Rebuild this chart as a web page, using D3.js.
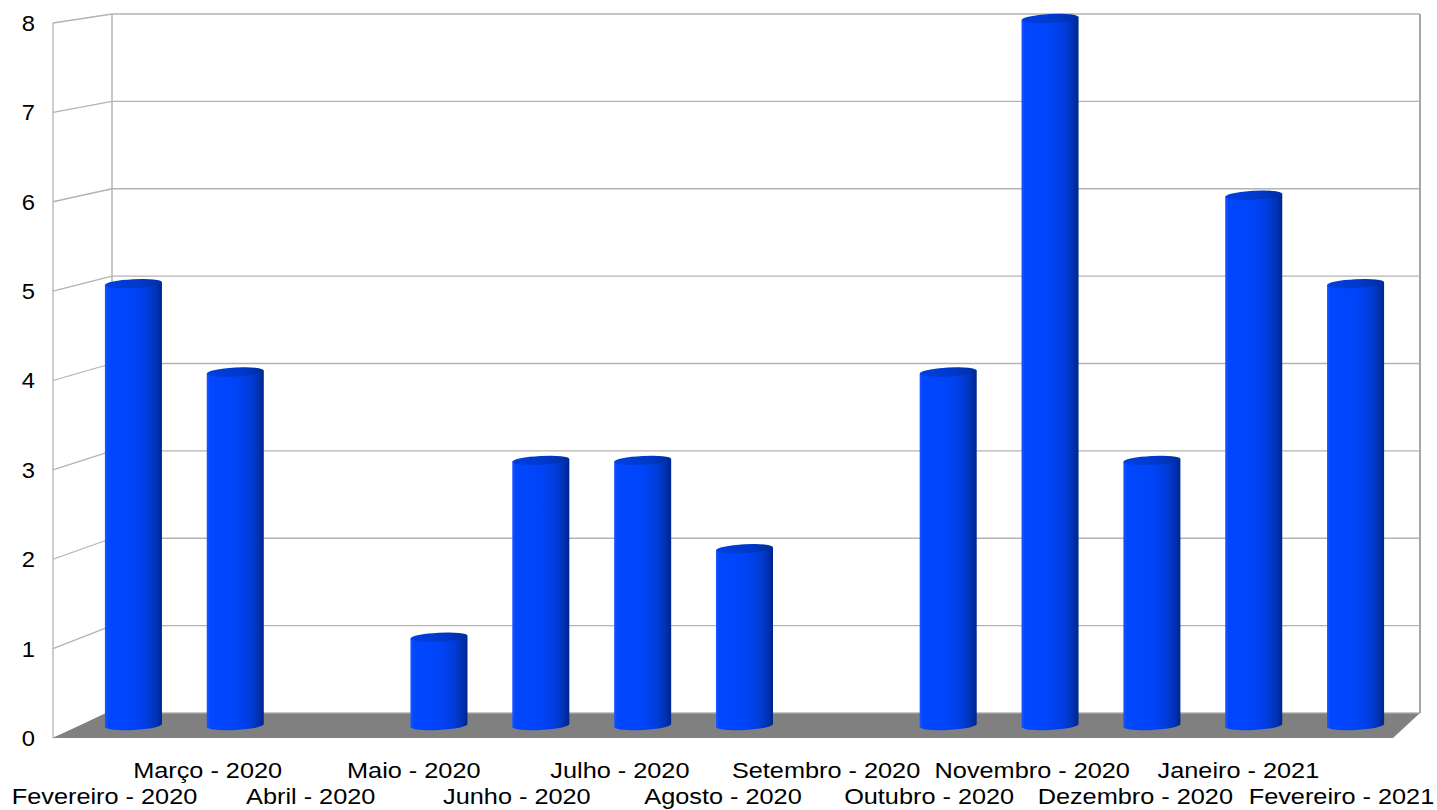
<!DOCTYPE html>
<html>
<head>
<meta charset="utf-8">
<script src="https://cdn.jsdelivr.net/npm/d3@7"></script>
<style>
  html, body { margin: 0; padding: 0; background: #fff; }
  svg { display: block; }
  text { font-family: "Liberation Sans", Arial, sans-serif; fill: #000; }
</style>
</head>
<body>
<svg id="chart" width="1437" height="810"></svg>
<script>
// Monthly counts
const categories = [
  "Fevereiro - 2020", "Março - 2020", "Abril - 2020", "Maio - 2020",
  "Junho - 2020", "Julho - 2020", "Agosto - 2020", "Setembro - 2020",
  "Outubro - 2020", "Novembro - 2020", "Dezembro - 2020", "Janeiro - 2021",
  "Fevereiro - 2021"
];
const values = [5, 4, 0, 1, 3, 3, 2, 0, 4, 8, 3, 6, 5];
const yTicks = [0, 1, 2, 3, 4, 5, 6, 7, 8];

const svg = d3.select("#chart");

// Pseudo-3D box: front plane and back plane, bars sit halfway in depth
const xFront = d3.scaleBand().domain(categories).range([53, 1393]);
const xMid = d3.scaleBand().domain(categories).range([82.5, 1406.5]);
const yFront = d3.scaleLinear().domain([0, 8]).range([738, 23]);
const yBack = d3.scaleLinear().domain([0, 8]).range([713, 14]);
const yMid = d3.scaleLinear().domain([0, 8]).range([725.5, 18.5]);
const backLeft = 112, backRight = 1420, frontLeft = 53, frontRight = 1393;

const grid = "#b3b3b3";
const walls = svg.append("g");

// back wall gridlines
walls.selectAll("line.back").data(yTicks).join("line")
  .attr("x1", backLeft).attr("x2", backRight)
  .attr("y1", d => yBack(d)).attr("y2", d => yBack(d))
  .attr("stroke", grid).attr("stroke-width", 1.3);

// side wall gridlines
walls.selectAll("line.side").data(yTicks).join("line")
  .attr("x1", frontLeft).attr("x2", backLeft)
  .attr("y1", d => yFront(d)).attr("y2", d => yBack(d))
  .attr("stroke", grid).attr("stroke-width", 1.3);

// wall edges
walls.append("line").attr("x1", frontLeft).attr("x2", frontLeft)
  .attr("y1", yFront(8)).attr("y2", yFront(0)).attr("stroke", grid).attr("stroke-width", 1.3);
walls.append("line").attr("x1", backLeft).attr("x2", backLeft)
  .attr("y1", yBack(8)).attr("y2", yBack(0)).attr("stroke", grid).attr("stroke-width", 1.5);
walls.append("line").attr("x1", backRight).attr("x2", backRight)
  .attr("y1", yBack(8)).attr("y2", yBack(0)).attr("stroke", "#a6a6a6").attr("stroke-width", 2);

// floor
walls.append("polygon")
  .attr("points", [[frontLeft, yFront(0)], [backLeft - 6, yBack(0)], [backRight, yBack(0)], [frontRight, yFront(0)]].join(" "))
  .attr("fill", "#808080");
walls.append("line").attr("x1", backLeft - 6).attr("x2", backRight)
  .attr("y1", yBack(0) + 0.5).attr("y2", yBack(0) + 0.5).attr("stroke", "#9a9a9a").attr("stroke-width", 1);

// cylinder shading
const defs = svg.append("defs");
const grad = defs.append("linearGradient").attr("id", "cyl").attr("x1", "0%").attr("x2", "100%");
[[0, "#1a55ff"], [0.06, "#0047ff"], [0.5, "#0044f8"], [0.75, "#003ddc"], [0.9, "#0032b4"], [1, "#00258a"]]
  .forEach(([o, c]) => grad.append("stop").attr("offset", o).attr("stop-color", c));
const gradTop = defs.append("linearGradient").attr("id", "cylTop").attr("x1", "0%").attr("x2", "100%");
[[0, "#0040e0"], [0.6, "#0038c8"], [1, "#002e9e"]]
  .forEach(([o, c]) => gradTop.append("stop").attr("offset", o).attr("stop-color", c));

const bw = xMid.bandwidth() * 0.56;
const rx = bw / 2, ry = 4.5, tilt = -3;
const bars = svg.append("g").selectAll("g").data(categories.map((c, i) => ({ c, v: values[i] })).filter(d => d.v > 0)).join("g");

bars.append("path")
  .attr("d", d => {
    const cx = xMid(d.c) + xMid.bandwidth() / 2;
    const yt = yMid(d.v), yb = yMid(0);
    const dy = rx * Math.sin(tilt * Math.PI / 180);
    return `M${cx - rx},${yt - dy} L${cx - rx},${yb - dy} A${rx},${ry} ${tilt} 0 0 ${cx + rx},${yb + dy} L${cx + rx},${yt + dy} Z`;
  })
  .attr("fill", "url(#cyl)");

bars.append("ellipse")
  .attr("cx", d => xMid(d.c) + xMid.bandwidth() / 2)
  .attr("cy", d => yMid(d.v))
  .attr("rx", rx).attr("ry", ry)
  .attr("transform", d => `rotate(${tilt},${xMid(d.c) + xMid.bandwidth() / 2},${yMid(d.v)})`)
  .attr("fill", "url(#cylTop)");

// value axis labels
svg.append("g").selectAll("text").data(yTicks).join("text")
  .attr("transform", d => `translate(35,${yFront(d)}) scale(1.08,1)`)
  .attr("dy", "0.36em").attr("text-anchor", "end")
  .attr("font-size", 22).text(d => d);

// category labels, staggered over two rows
svg.append("g").selectAll("text").data(categories).join("text")
  .attr("transform", (d, i) => `translate(${xFront(d) + xFront.bandwidth() / 2},${i % 2 === 1 ? 778 : 804}) scale(1.15,1)`)
  .attr("text-anchor", "middle")
  .attr("font-size", 22).text(d => d);
</script>
</body>
</html>
